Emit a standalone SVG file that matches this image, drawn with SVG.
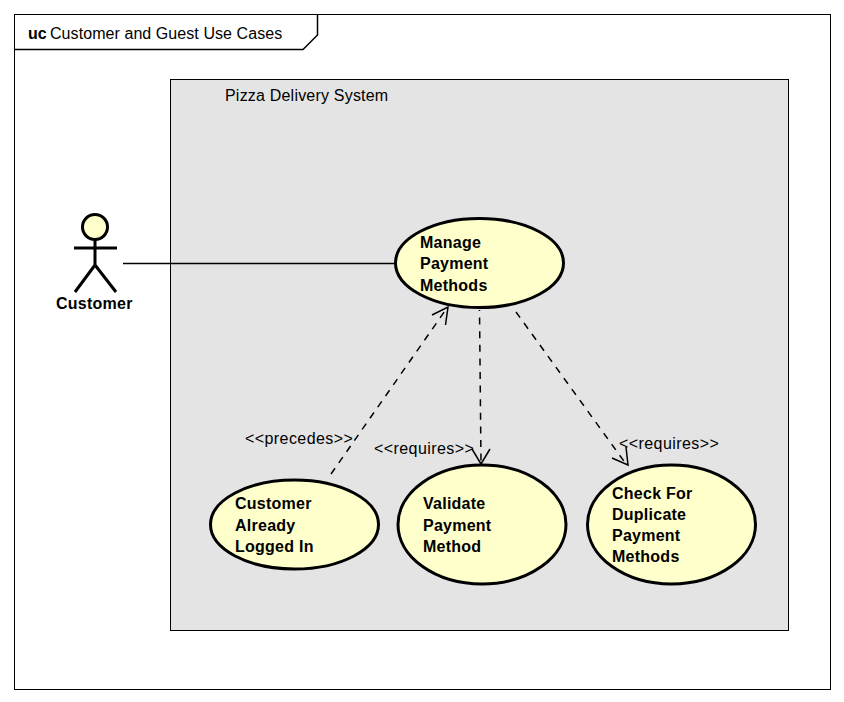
<svg xmlns="http://www.w3.org/2000/svg" width="844" height="702" viewBox="0 0 844 702">
<style>
text{font-family:"Liberation Sans",Arial,sans-serif;font-size:16px;fill:#000}
.b{font-weight:bold;letter-spacing:.25px}
.s{letter-spacing:.42px}
.n{fill:none;stroke:#000;stroke-width:1.5}
.uc{fill:#ffffcc;stroke:#000;stroke-width:3}
.d{fill:none;stroke:#000;stroke-width:1.5;stroke-dasharray:7 6.600}
</style>
<rect width="844" height="702" fill="#fff"/>
<g id="frame">
<rect x="14.500" y="14.500" width="816" height="675" fill="#fff" stroke="#000" stroke-width="1"/>
<path d="M14.500 49.500H303L317.500 35V14.500" class="n"/>
<text x="28" y="39" font-weight="bold">uc</text>
<text x="50" y="39" letter-spacing=".07">Customer and Guest Use Cases</text>
</g>
<g id="system">
<rect x="170.500" y="79.500" width="618" height="551" fill="#e4e4e4" stroke="#000" stroke-width="1"/>
<text x="225" y="101" letter-spacing=".2">Pizza Delivery System</text>
</g>
<g id="connectors">
<path d="M123 263.500H396" class="n"/>
<path d="M331 474L447 308" class="d"/>
<path d="M432 315L448 307L445.500 325" class="n"/>
<path d="M479.500 310L481 463" class="d" stroke-dashoffset="6"/>
<path d="M472 449L481 464L490 449" class="n"/>
<path d="M516 312L626 464" class="d"/>
<path d="M612 458L628 465L626 447" class="n"/>
</g>
<g id="labels">
<text x="245" y="444" class="s">&lt;&lt;precedes&gt;&gt;</text>
<text x="374" y="454" class="s">&lt;&lt;requires&gt;&gt;</text>
<text x="619" y="449" class="s">&lt;&lt;requires&gt;&gt;</text>
</g>
<g id="customer">
<circle cx="95" cy="227" r="12.500" class="uc"/>
<path d="M95 240V265M74 248H117M95 265L75 292M95 265L116 292" fill="none" stroke="#000" stroke-width="3"/>
<text x="56" y="309" class="b">Customer</text>
</g>
<g id="manage">
<ellipse cx="479.500" cy="263" rx="84" ry="44.500" class="uc"/>
<text x="420" y="248" class="b">Manage</text>
<text x="420" y="269" class="b">Payment</text>
<text x="420" y="291" class="b">Methods</text>
</g>
<g id="logged-in">
<ellipse cx="294.500" cy="524.500" rx="84" ry="44.500" class="uc"/>
<text x="235" y="509" class="b">Customer</text>
<text x="235" y="531" class="b">Already</text>
<text x="235" y="552" class="b">Logged In</text>
</g>
<g id="validate">
<ellipse cx="482" cy="524.500" rx="84" ry="59.500" class="uc"/>
<text x="423" y="509" class="b">Validate</text>
<text x="423" y="531" class="b">Payment</text>
<text x="423" y="552" class="b">Method</text>
</g>
<g id="duplicate">
<ellipse cx="671.500" cy="524.500" rx="84" ry="59.500" class="uc"/>
<text x="612" y="499" class="b">Check For</text>
<text x="612" y="520" class="b">Duplicate</text>
<text x="612" y="541" class="b">Payment</text>
<text x="612" y="562" class="b">Methods</text>
</g>
</svg>
